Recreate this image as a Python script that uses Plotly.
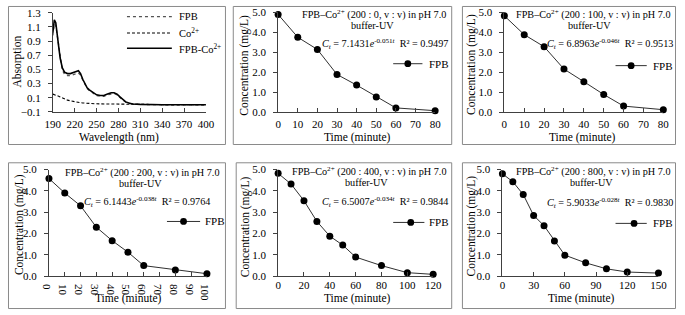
import plotly.graph_objects as go

W, H = 685, 315
FONT = "Liberation Serif"

# ---------------- data ----------------
wavelength = [190, 192, 194, 196, 198, 200, 203, 206, 210, 214, 218, 222, 225, 228, 231, 234,
              237, 240, 245, 250, 255, 260, 265, 270, 274, 278, 282, 286, 290, 295, 300, 310,
              320, 340, 360, 380, 400]
abs_fpb = [0.98, 1.14, 1.12, 0.98, 0.79, 0.63, 0.49, 0.43, 0.41, 0.41, 0.42, 0.44, 0.45, 0.42,
           0.35, 0.28, 0.23, 0.20, 0.16, 0.13, 0.12, 0.12, 0.14, 0.155, 0.16, 0.14, 0.10, 0.065,
           0.035, 0.02, 0.01, 0.005, 0.0, 0.0, 0.0, 0.0, 0.0]
abs_co = [0.15, 0.145, 0.14, 0.13, 0.12, 0.11, 0.095, 0.08, 0.065, 0.055, 0.045, 0.038, 0.033,
          0.029, 0.025, 0.022, 0.02, 0.018, 0.015, 0.013, 0.012, 0.011, 0.01, 0.009, 0.008,
          0.007, 0.006, 0.005, 0.005, 0.004, 0.004, 0.003, 0.003, 0.002, 0.002, 0.002, 0.002]
abs_fpbco = [1.02, 1.20, 1.16, 1.02, 0.82, 0.66, 0.52, 0.46, 0.44, 0.44, 0.45, 0.47, 0.48, 0.44,
             0.36, 0.29, 0.24, 0.21, 0.17, 0.14, 0.13, 0.13, 0.15, 0.17, 0.17, 0.15, 0.11, 0.07,
             0.04, 0.02, 0.01, 0.005, 0.0, 0.0, 0.0, 0.0, 0.0]
spec_names = ["FPB", "Co<sup>2+</sup>", "FPB-Co<sup>2+</sup>"]

t_a = [0, 10, 20, 30, 40, 50, 60, 80]
c_a = [4.89, 3.75, 3.14, 1.89, 1.36, 0.77, 0.22, 0.08]
t_b = [0, 10, 20, 30, 40, 50, 60, 80]
c_b = [4.82, 3.88, 3.28, 2.16, 1.53, 0.89, 0.31, 0.13]
t_c = [0, 10, 20, 30, 40, 50, 60, 80, 100]
c_c = [4.58, 3.90, 3.30, 2.30, 1.67, 1.13, 0.50, 0.30, 0.12]
t_d = [0, 10, 20, 30, 40, 50, 60, 80, 100, 120]
c_d = [4.82, 4.32, 3.54, 2.57, 1.88, 1.46, 0.90, 0.50, 0.17, 0.09]
t_e = [0, 10, 20, 30, 40, 50, 60, 80, 100, 120, 150]
c_e = [4.80, 4.43, 3.83, 2.85, 2.37, 1.65, 0.99, 0.63, 0.35, 0.20, 0.15]

ratios = ["200 : 0", "200 : 100", "200 : 200", "200 : 400", "200 : 800"]
fit_a = ["7.1431", "6.8963", "6.1443", "6.5007", "5.9033"]
fit_k = ["0.051", "0.046", "0.038", "0.034", "0.028"]
r2 = ["0.9497", "0.9513", "0.9764", "0.9844", "0.9830"]
t_max = [80, 80, 100, 120, 150]
t_step = [10, 10, 10, 20, 30]
series_name = "FPB"

# ---------------- layout geometry (pixels) ----------------
def fx(x):
    return x / W

def fy(y):
    return 1 - y / H

# plot areas: x0, x1, ytop, ybottom
areas = [(46, 203, 7, 110), (277, 438, 6.5, 110.5), (509, 672, 6.5, 110.5),
         (42, 204, 170, 281), (277, 436, 170, 281), (507, 667, 170, 281)]
boxes = [(0.5, 223, 0.5, 144), (231, 455, 0.5, 144), (466, 684.5, 0.5, 144),
         (0.5, 223, 163, 314.5), (234, 455, 163, 314.5), (466, 684.5, 163, 314.5)]
xlab_standoff = [2, 2, 2, -1, -1, -1]

fig = go.Figure()
AX = "#404040"
tfont = dict(family=FONT, size=11, color="black")

def axis_common():
    return dict(showgrid=False, zeroline=False, showline=True, linecolor=AX, linewidth=1,
                tickfont=tfont, ticks="outside", tickcolor=AX, ticklen=4)

layout = dict()
for i, (x0, x1, yt, yb) in enumerate(areas):
    n = "" if i == 0 else str(i + 1)
    xa = axis_common()
    ya = axis_common()
    xa.update(domain=[fx(x0), fx(x1)], anchor="y" + n, ticks="inside",
              ticklabelstandoff=xlab_standoff[i])
    ya.update(domain=[fy(yb), fy(yt)], anchor="x" + n, ticklabelstandoff=5)
    if i == 0:
        xa.update(range=[190, 400], tick0=190, dtick=30)
        ya.update(range=[-0.1, 1.3], tick0=-0.1, dtick=0.2, tickformat=".1f")
    else:
        xa.update(range=[0, t_max[i - 1]], tick0=0, dtick=t_step[i - 1])
        ya.update(range=[0, 5.0], tick0=0, dtick=1.0, tickformat=".1f")
    layout["xaxis" + n] = xa
    layout["yaxis" + n] = ya

FPB_STYLE = dict(color="#555555", width=1.3, dash="dot")
CO_STYLE = dict(color="black", width=1.1, dash="3px,2px")
MIX_STYLE = dict(color="black", width=1.6)

# spectra panel
fig.add_trace(go.Scatter(x=wavelength, y=abs_fpb, mode="lines", name=spec_names[0],
                         line=FPB_STYLE, xaxis="x", yaxis="y"))
fig.add_trace(go.Scatter(x=wavelength, y=abs_co, mode="lines", name=spec_names[1],
                         line=CO_STYLE, xaxis="x", yaxis="y"))
fig.add_trace(go.Scatter(x=wavelength, y=abs_fpbco, mode="lines", name=spec_names[2],
                         line=MIX_STYLE, xaxis="x", yaxis="y"))

# kinetics panels
kin = [(t_a, c_a), (t_b, c_b), (t_c, c_c), (t_d, c_d), (t_e, c_e)]
for i, (t, c) in enumerate(kin):
    n = str(i + 2)
    fig.add_trace(go.Scatter(x=t, y=c, mode="lines+markers", name=series_name,
                             line=dict(color="#303030", width=1),
                             marker=dict(color="black", size=7),
                             xaxis="x" + n, yaxis="y" + n, cliponaxis=False))

shapes = []
annotations = []

def ann(text, x, y, xanchor="center", angle=0, size=11):
    annotations.append(dict(text=text, x=fx(x), y=fy(y), xref="paper", yref="paper",
                            xanchor=xanchor, yanchor="middle", showarrow=False,
                            textangle=angle, font=dict(family=FONT, size=size, color="black")))

for (x0, x1, y0, y1) in boxes:
    shapes.append(dict(type="rect", xref="paper", yref="paper", x0=fx(x0), x1=fx(x1),
                       y0=fy(y1), y1=fy(y0), line=dict(color="#8a8a8a", width=1)))

# spectra legend
leg_rows = [11, 28, 44]
for yy, st, name in zip(leg_rows, [FPB_STYLE, CO_STYLE, MIX_STYLE], spec_names):
    shapes.append(dict(type="line", xref="paper", yref="paper", x0=fx(122), x1=fx(168),
                       y0=fy(yy), y1=fy(yy), line=st))
    ann(name, 173, yy, xanchor="left", size=10.5)

# spectra axis titles
ann("Absorption", 10, 58, angle=-90, size=11.5)
ann("Wavelength (nm)", 114, 137, size=11.5)

# kinetics text
title_pos = [(375, 9, 374, 20, 387, 40), (600, 9, 596, 20, 617, 40), (137, 173, 136, 185, 143, 204),
             (370, 172, 368, 184, 387, 204), (600, 172, 598, 184, 617, 205)]
legend_pos = [(395, 425, 410, 430, 60), (623, 655, 639, 659, 62), (163, 197, 180, 200, 224),
              (395, 427, 413, 430, 225), (623, 655, 642, 659, 226)]
ytitle_pos = [(243, 61), (475, 61), (12, 227), (243, 229), (475, 229)]
xtitle_pos = [(358, 137), (589, 137), (124, 304), (358, 304), (588, 304)]

for i in range(5):
    tx1, ty1, tx2, ty2, ex, ey = title_pos[i]
    ann("FPB–Co<sup>2+</sup> (%s, v : v) in pH 7.0" % ratios[i], tx1, ty1, size=10.2)
    ann("buffer-UV", tx2, ty2, size=10.2)
    ann("<i>C<sub>t</sub></i> = %s<i>e</i><sup>-%s<i>t</i></sup>  R² = %s" % (fit_a[i], fit_k[i], r2[i]),
        ex, ey, size=10.2)
    lx0, lx1, mx, txx, ly = legend_pos[i]
    shapes.append(dict(type="line", xref="paper", yref="paper", x0=fx(lx0), x1=fx(lx1),
                       y0=fy(ly), y1=fy(ly), line=dict(color="#303030", width=1)))
    shapes.append(dict(type="circle", xref="paper", yref="paper", x0=fx(mx - 3.5), x1=fx(mx + 3.5),
                       y0=fy(ly + 3.5), y1=fy(ly - 3.5), fillcolor="black", line=dict(color="black", width=0)))
    ann(series_name, txx, ly, xanchor="left")
    ann("Concentration (mg/L)", ytitle_pos[i][0], ytitle_pos[i][1], angle=-90, size=11.5)
    ann("Time (minute)", xtitle_pos[i][0], xtitle_pos[i][1], size=11.5)

fig.update_layout(width=W, height=H, margin=dict(l=0, r=0, t=0, b=0),
                  paper_bgcolor="white", plot_bgcolor="white", showlegend=False,
                  font=dict(family=FONT, size=11, color="black"),
                  shapes=shapes, annotations=annotations, **layout)

fig.write_html("out.html", config={"displayModeBar": False},
               post_script="document.body.style.margin='0';document.body.style.padding='0';")
